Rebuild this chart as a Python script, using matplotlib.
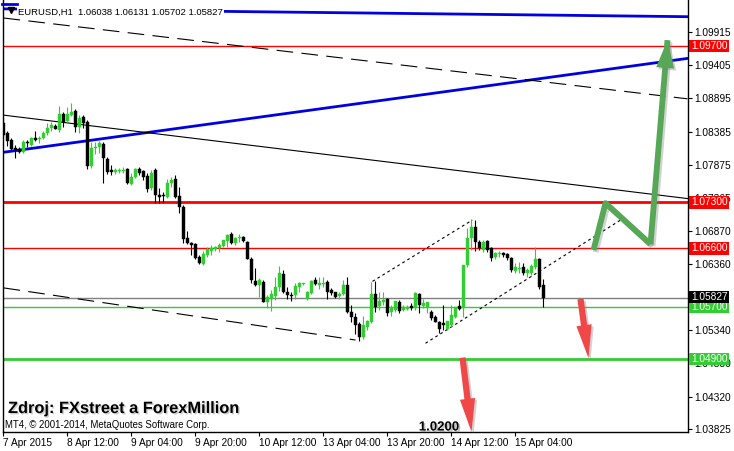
import matplotlib
matplotlib.use('Agg')
import matplotlib.pyplot as plt
import numpy as np
from matplotlib import patheffects as pe
from matplotlib.transforms import blended_transform_factory

plt.rcParams['font.family'] = ['Liberation Sans', 'DejaVu Sans']
plt.rcParams['lines.scale_dashes'] = False

# ---------------- data ----------------
opens = [1.0852,1.0837,1.0826,1.0814,1.0812,1.0807,1.0823,1.0818,1.0829,1.0827,
         1.0829,1.0837,1.0844,1.0847,1.0841,1.0866,1.0855,1.0864,1.0870,1.0846,
         1.0861,1.0854,1.0786,1.0814,1.0815,1.0820,1.0797,1.0780,1.0777,1.0778,
         1.0779,1.0781,1.0758,1.0769,1.0781,1.0778,1.0771,1.0752,1.0780,1.0741,
         1.0741,1.0738,1.0760,1.0766,1.0740,1.0723,1.0676,1.0668,1.0666,1.0646,
         1.0636,1.0649,1.0656,1.0658,1.0660,1.0663,1.0671,1.0682,1.0668,1.0676,
         1.0677,1.0669,1.0644,1.0609,1.0603,1.0608,1.0577,1.0582,1.0587,1.0600,
         1.0620,1.0593,1.0588,1.0588,1.0600,1.0605,1.0582,1.0591,1.0611,1.0603,
         1.0605,1.0608,1.0596,1.0593,1.0587,1.0590,1.0603,1.0562,1.0554,1.0544,
         1.0524,1.0539,1.0547,1.0590,1.0571,1.0577,1.0582,1.0562,1.0565,1.0577,
         1.0565,1.0566,1.0571,1.0568,1.0590,1.0571,1.0570,1.0562,1.0554,1.0547,
         1.0545,1.0536,1.0542,1.0554,1.0571,1.0568,1.0634,1.0676,1.0692,1.0669,
         1.0657,1.0671,1.0660,1.0646,1.0651,1.0652,1.0651,1.0645,1.0625,1.0628,
         1.0631,1.0622,1.0622,1.0631,1.0643,1.06038]
highs = [1.0860,1.0840,1.0829,1.0818,1.0815,1.0826,1.0826,1.0830,1.0840,1.0832,
         1.0840,1.0852,1.0854,1.0850,1.0878,1.0869,1.0876,1.0883,1.0873,1.0864,
         1.0864,1.0857,1.0823,1.0823,1.0824,1.0823,1.0800,1.0788,1.0783,1.0783,
         1.0784,1.0783,1.0775,1.0783,1.0784,1.0780,1.0775,1.0780,1.0783,1.0752,
         1.0746,1.0766,1.0769,1.0772,1.0754,1.0726,1.0686,1.0669,1.0668,1.0649,
         1.0656,1.0662,1.0665,1.0663,1.0668,1.0672,1.0682,1.0685,1.0677,1.0682,
         1.0679,1.0671,1.0646,1.0630,1.0614,1.0611,1.0588,1.0596,1.0616,1.0633,
         1.0626,1.0600,1.0593,1.0607,1.0608,1.0607,1.0594,1.0611,1.0616,1.0616,
         1.0616,1.0611,1.0599,1.0593,1.0593,1.0611,1.0616,1.0573,1.0560,1.0547,
         1.0556,1.0550,1.0608,1.0609,1.0593,1.0593,1.0583,1.0573,1.0579,1.0580,
         1.0573,1.0573,1.0576,1.0593,1.0591,1.0582,1.0577,1.0565,1.0557,1.0548,
         1.0573,1.0548,1.0573,1.0570,1.0580,1.0634,1.0691,1.0705,1.0703,1.0672,
         1.0672,1.0672,1.0662,1.0654,1.0656,1.0654,1.0652,1.0646,1.0637,1.0638,
         1.0637,1.0630,1.0636,1.0662,1.0645,1.06131]
lows = [1.0830,1.0817,1.0811,1.0798,1.0806,1.0806,1.0815,1.0817,1.0824,1.0821,
        1.0827,1.0834,1.0840,1.0843,1.0838,1.0846,1.0854,1.0863,1.0838,1.0837,
        1.0844,1.0781,1.0783,1.0804,1.0806,1.0760,1.0774,1.0772,1.0774,1.0775,
        1.0775,1.0758,1.0757,1.0768,1.0772,1.0764,1.0746,1.0749,1.0729,1.0729,
        1.0731,1.0737,1.0754,1.0737,1.0714,1.0668,1.0666,1.0649,1.0643,1.0636,
        1.0634,1.0646,1.0649,1.0656,1.0654,1.0662,1.0662,1.0666,1.0665,1.0669,
        1.0669,1.0643,1.0607,1.0602,1.0585,1.0577,1.0568,1.0564,1.0580,1.0594,
        1.0591,1.0582,1.0579,1.0582,1.0593,1.0603,1.0580,1.0590,1.0603,1.0597,
        1.0600,1.0582,1.0588,1.0583,1.0582,1.0588,1.0560,1.0547,1.0528,1.0518,
        1.0521,1.0534,1.0545,1.0562,1.0565,1.0573,1.0556,1.0556,1.0562,1.0560,
        1.0563,1.0565,1.0565,1.0565,1.0560,1.0568,1.0560,1.0550,1.0546,1.0530,
        1.0534,1.0534,1.0539,1.0553,1.0565,1.0554,1.0631,1.0657,1.0656,1.0657,
        1.0654,1.0654,1.0640,1.0643,1.0646,1.0646,1.0642,1.0624,1.0622,1.0622,
        1.0619,1.0616,1.0619,1.0628,1.0597,1.05702]
closes = [1.0834,1.0824,1.0812,1.0810,1.0807,1.0823,1.0821,1.0829,1.0826,1.0829,
          1.0837,1.0844,1.0849,1.0843,1.0866,1.0854,1.0866,1.0869,1.0846,1.0860,
          1.0852,1.0786,1.0814,1.0815,1.0821,1.0798,1.0777,1.0777,1.0780,1.0780,
          1.0780,1.0760,1.0769,1.0781,1.0775,1.0769,1.0751,1.0775,1.0741,1.0738,
          1.0740,1.0760,1.0764,1.0738,1.0723,1.0674,1.0668,1.0665,1.0645,1.0637,
          1.0651,1.0658,1.0660,1.0662,1.0665,1.0672,1.0680,1.0668,1.0676,1.0677,
          1.0671,1.0644,1.0611,1.0603,1.0611,1.0578,1.0585,1.0590,1.0600,1.0622,
          1.0593,1.0588,1.0587,1.0602,1.0607,1.0606,1.0593,1.0609,1.0605,1.0607,
          1.0607,1.0593,1.0591,1.0585,1.0590,1.0603,1.0562,1.0554,1.0542,1.0524,
          1.0542,1.0548,1.0590,1.0570,1.0579,1.0580,1.0560,1.0568,1.0579,1.0563,
          1.0570,1.0570,1.0568,1.0591,1.0573,1.0576,1.0577,1.0553,1.0547,1.0536,
          1.0542,1.0548,1.0557,1.0570,1.0567,1.0634,1.0676,1.0692,1.0669,1.0660,
          1.0669,1.0657,1.0645,1.0652,1.0652,1.0649,1.0645,1.0626,1.0631,1.0629,
          1.0622,1.0626,1.0633,1.0643,1.0600,1.05827]

x_tick_bars = [0, 16, 32, 48, 64, 80, 96, 112, 128]
x_tick_labels = ['7 Apr 2015', '8 Apr 12:00', '9 Apr 04:00', '9 Apr 20:00', '10 Apr 12:00',
                 '13 Apr 04:00', '13 Apr 20:00', '14 Apr 12:00', '15 Apr 04:00']
y_tick_values = [1.09915, 1.09405, 1.08895, 1.08385, 1.07875, 1.07365, 1.06870,
                 1.06360, 1.05850, 1.05340, 1.04830, 1.04320, 1.03825]
y_tick_labels = ['1.09915', '1.09405', '1.08895', '1.08385', '1.07875', '1.07365', '1.06870',
                 '1.06360', '', '1.05340', '1.04830', '1.04320', '1.03825']

h_levels = [1.0970, 1.0730, 1.0660, 1.0570, 1.0490]
h_colors = ['#ff0000', '#ff0000', '#ff0000', '#32cd32', '#32cd32']
h_widths = [1.0, 2.0, 1.0, 1.0, 2.0]
bid_price = 1.05827

# trend lines (bar index, price)
blue_top_x, blue_top_y = [0, 171], [1.1027, 1.1015]
blue_rise_x, blue_rise_y = [0, 171], [1.0807, 1.0951]
black_line_x, black_line_y = [0, 171], [1.0864, 1.0736]
dash_top_x, dash_top_y = [0, 171], [1.1013, 1.0889]
dash_low_x, dash_low_y = [0, 88], [1.0599, 1.0519]
chan_up_x, chan_up_y = [92.25, 117.2], [1.0609, 1.0703]
chan_lo_x, chan_lo_y = [105.5, 154.25], [1.0514, 1.0703]

# hand-drawn arrows (bar index, price)
green_path_x = [147.5, 150.5, 161.75, 166.0]
green_path_y = [1.0657, 1.0729, 1.0666, 1.0979]
red1_x, red1_y = [144.25, 146.25], [1.0582, 1.0491]
red2_x, red2_y = [114.75, 117.0], [1.0492, 1.0378]

# ---------------- figure ----------------
W, H = 734, 451
fig = plt.figure(figsize=(W / 100, H / 100), dpi=100)
fig.patch.set_facecolor('white')
ax = fig.add_axes([3 / W, 19 / H, 685 / W, 432 / H])
ax.set_facecolor('white')
ax.set_xlim(-0.125, 171.125)
ax.set_ylim(1.03779, 1.10406)
for s in ax.spines.values():
    s.set_color('black')
    s.set_linewidth(1.0)
ax.spines['top'].set_visible(False)

o = np.array(opens); h = np.array(highs); l = np.array(lows); c = np.array(closes)
idx = np.arange(len(o))
up = c >= o
bull = '#32cd32'
cols = np.where(up, bull, 'black')

# horizontal levels
for lv, col, lw in zip(h_levels, h_colors, h_widths):
    ax.axhline(lv, color=col, lw=lw, zorder=1)
ax.axhline(bid_price, color='#808080', lw=1.0, zorder=1)

# trend lines
ax.plot(blue_top_x, blue_top_y, color='#0000e0', lw=2.0, zorder=2)
ax.plot(blue_rise_x, blue_rise_y, color='#0000e0', lw=2.0, zorder=2)
ax.plot(black_line_x, black_line_y, color='black', lw=0.8, zorder=2)
ax.plot(dash_top_x, dash_top_y, color='black', lw=0.8, dashes=(12, 6), zorder=2)
ax.plot(dash_low_x, dash_low_y, color='black', lw=0.8, dashes=(12, 6), zorder=2)
ax.plot(chan_up_x, chan_up_y, color='black', lw=0.8, dashes=(2, 2.2), zorder=2)
ax.plot(chan_lo_x, chan_lo_y, color='black', lw=0.8, dashes=(2, 2.2), zorder=2)

# candles
ax.vlines(idx, l, h, colors=cols, lw=0.8, zorder=3)
bottoms = np.minimum(o, c)
heights = np.maximum(np.abs(c - o), 0.00006)
ax.bar(idx, heights, bottom=bottoms, width=0.72, color=cols, edgecolor=cols,
       linewidth=0.3, zorder=4)

# green hand-drawn arrow
gcol = '#56a856'
shadow_line = [pe.SimpleLineShadow(offset=(1.5, -1.5), alpha=0.35, shadow_color='gray'), pe.Normal()]
ax.plot(green_path_x[:-1], green_path_y[:-1], color=gcol, lw=4.2, solid_capstyle='butt',
        solid_joinstyle='round', zorder=6, path_effects=shadow_line)
ax.plot(green_path_x[-2:], green_path_y[-2:], color=gcol, lw=4.2, solid_capstyle='butt',
        zorder=6, path_effects=shadow_line)
shadow_patch = [pe.SimplePatchShadow(offset=(1.5, -1.5), alpha=0.35, shadow_rgbFace='gray'), pe.Normal()]
ax.annotate('', xy=(green_path_x[-1], green_path_y[-1]),
            xytext=(green_path_x[-2], green_path_y[-2]),
            arrowprops=dict(arrowstyle='simple,head_length=2.0,head_width=1.3,tail_width=0.01',
                            fc=gcol, ec='none', lw=0, shrinkA=0, shrinkB=0,
                            mutation_scale=10, path_effects=shadow_patch),
            zorder=6)

# red arrows
rcol = '#f04848'
for xs, ys in [(red1_x, red1_y), (red2_x, red2_y)]:
    ax.annotate('', xy=(xs[1], ys[1]), xytext=(xs[0], ys[0]),
                arrowprops=dict(arrowstyle='simple,head_length=2.4,head_width=1.1,tail_width=0.45',
                                fc=rcol, ec='none', lw=0, shrinkA=0, shrinkB=0,
                                mutation_scale=10, path_effects=shadow_patch),
                zorder=6)

# axes ticks
ax.yaxis.tick_right()
ax.set_yticks(y_tick_values)
ax.set_yticklabels(y_tick_labels)
ax.set_xticks(x_tick_bars)
ax.set_xticklabels(x_tick_labels)
ax.tick_params(axis='y', direction='out', length=3, width=0.8, pad=1.5, labelsize=7.3, colors='black')
ax.tick_params(axis='x', direction='out', length=3, width=0.8, pad=1.5, labelsize=7.3, colors='black')
for t in ax.get_xticklabels():
    t.set_horizontalalignment('left')

# price boxes on right axis
trans = blended_transform_factory(ax.transAxes, ax.transData)
box_items = [(lv, col, 0.0) for lv, col in zip(h_levels, h_colors)] + [(bid_price, 'black', 1.1)]
for lv, col, dy in box_items:
    ax.annotate('%.5f' % lv, xy=(1.0, lv), xycoords=trans, xytext=(2.0, dy),
                textcoords='offset points', ha='left', va='center',
                fontsize=7.3, color='white', annotation_clip=False, zorder=10,
                bbox=dict(boxstyle='square,pad=0.14', fc=col, ec='none'))

# header
ax.text(0.0219, 0.9653, 'EURUSD,H1  1.06038 1.06131 1.05702 1.05827', transform=ax.transAxes,
        ha='left', va='baseline', fontsize=6.8, color='black', zorder=9,
        bbox=dict(boxstyle='square,pad=0.15', fc='white', ec='none'))
ax.plot([-0.0015, 0.02], [0.990, 0.990], transform=ax.transAxes, color='#0000e0', lw=2.0,
        clip_on=False, zorder=9)
ax.plot([0.0117], [0.976], transform=ax.transAxes, marker='v', color='black', markersize=5,
        clip_on=False, zorder=9)

# notes
ax.text(0.0073, 0.044, 'Zdroj: FXstreet a ForexMillion', transform=ax.transAxes,
        ha='left', va='baseline', fontsize=11.8, fontweight='bold', color='black', zorder=9,
        path_effects=[pe.withSimplePatchShadow(offset=(1, -1), shadow_rgbFace='gray', alpha=0.4)])
ax.text(0.003, 0.0093, 'MT4, © 2001-2014, MetaQuotes Software Corp.', transform=ax.transAxes,
        ha='left', va='baseline', fontsize=6.9, color='black', zorder=9)
ax.text(0.607, 0.0035, '1.0200', transform=ax.transAxes, ha='left', va='baseline',
        fontsize=9.5, fontweight='bold', color='black', zorder=9,
        path_effects=[pe.withSimplePatchShadow(offset=(1.2, -1.2), shadow_rgbFace='gray', alpha=0.5)])

fig.savefig('out.png', dpi=100, facecolor='white')
